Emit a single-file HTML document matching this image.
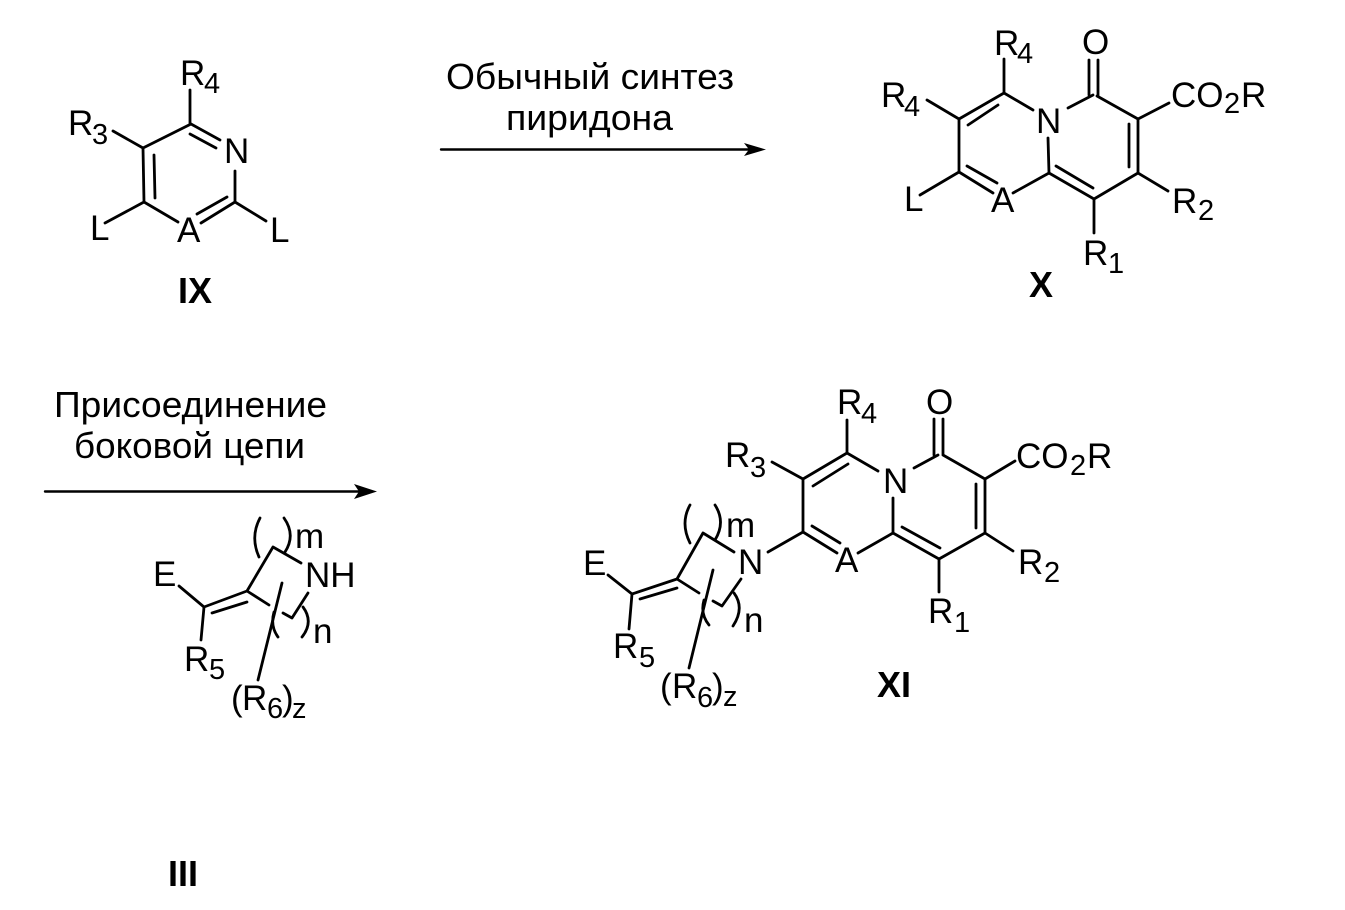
<!DOCTYPE html>
<html>
<head>
<meta charset="utf-8">
<style>
html,body{margin:0;padding:0;background:#fff;}
svg{display:block;}
text{font-family:"Liberation Sans",sans-serif;fill:#000;font-size:35px;}
.r{font-size:36px;}
.s{font-size:29px;}
.b{font-weight:bold;font-size:36px;}
.l{fill:none;stroke:#000;stroke-width:2.8;stroke-linecap:round;stroke-linejoin:round;}
.t{stroke-width:2.4;}
</style>
</head>
<body>
<svg width="1345" height="910" viewBox="0 0 1345 910" xmlns="http://www.w3.org/2000/svg">
<rect width="1345" height="910" fill="#fff"/>

<!-- IX -->
<path class="l" d="M190 90V124M191 124L220 140M190 134L216 148M191 124L143 148M113 131L143 148M143 148L144 202M154 155L155 198M144 202L105 223M144 202L178 222M201 223L235 202M197 214L227 197M235 171V202M235 202L266 221"/>
<text x="180" y="85">R</text><text class="s" x="204" y="93">4</text>
<text x="68" y="135">R</text><text class="s" x="92" y="144">3</text>
<text x="224" y="163">N</text>
<text x="90" y="240">L</text>
<text x="177" y="242">A</text>
<text x="270" y="242">L</text>
<text class="b" x="178" y="303">IX</text>

<!-- Arrow 1 -->
<text class="r" x="446" y="89" textLength="288" lengthAdjust="spacingAndGlyphs">Обычный синтез</text>
<text class="r" x="506" y="130" textLength="167" lengthAdjust="spacingAndGlyphs">пиридона</text>
<path class="l t" d="M441 149.500H752"/>
<path d="M744 143L766 149.500L744 156L749 149.500Z" fill="#000"/>

<!-- X -->
<path class="l" d="M1004 59V93M1004 93L1033 110M1004 93L959 119M998 105L968 125M927 100L959 119M959 119V172M959 172L920 195M959 172L993 193M967 166L997 183M1013 193L1049 173M1048 138L1049 173M1049 173L1094 199M1056 166L1093 188M1094 199V233M1094 199L1138 173M1138 173L1168 191M1138 173V119M1129 124V167M1138 119L1169 103M1138 119L1097 96M1068 108L1093 95M1089 60V95M1098 60V96"/>
<text x="994" y="55">R</text><text class="s" x="1017" y="63">4</text>
<text x="1082" y="54">O</text>
<text x="881" y="107">R</text><text class="s" x="904" y="116">4</text>
<text x="1036" y="133">N</text>
<text x="1171" y="107">CO</text><text class="s" x="1224" y="113">2</text><text x="1241" y="107">R</text>
<text x="904" y="211">L</text>
<text x="991" y="212">A</text>
<text x="1172" y="213">R</text><text class="s" x="1198" y="220">2</text>
<text x="1083" y="265">R</text><text class="s" x="1108" y="273">1</text>
<text class="b" x="1029" y="297">X</text>

<!-- Arrow 2 -->
<text class="r" x="54" y="417" textLength="273" lengthAdjust="spacingAndGlyphs">Присоединение</text>
<text class="r" x="74" y="458" textLength="231" lengthAdjust="spacingAndGlyphs">боковой цепи</text>
<path class="l t" d="M45 491.500H362"/>
<path d="M354 484L377 491.500L354 499L359 491.500Z" fill="#000"/>

<!-- III -->
<path class="l" d="M179 586L204 607M204 607L247 591M212 613L247 602M204 607L201 640M247 591L273 547M273 547L301 563M247 591L269 605M282 583L258 680M283 613L292 618L308 593"/>
<path class="l" d="M260 518Q250 537 259 557M284 518Q296 535 285 552M274 612Q270 626 278 637M303 607Q314 622 302 637"/>
<text x="153" y="586">E</text>
<text x="295" y="548">m</text>
<text x="305" y="587">NH</text>
<text x="313" y="643">n</text>
<text x="184" y="671">R</text><text class="s" x="209" y="679">5</text>
<text x="231" y="710">(</text><text x="242" y="710">R</text><text class="s" x="267" y="718">6</text><text x="282" y="710">)</text><text class="s" x="292" y="718">z</text>
<text class="b" x="168" y="886">III</text>

<!-- XI -->
<path class="l" d="M847 420V453M847 453L878 471M847 453L803 479M848 464L813 486M772 462L803 479M803 479V532M803 532L768 552M803 532L837 553M812 526L840 543M858 553L893 533M893 498V533M893 533L939 559M902 527L940 548M939 559V592M939 559L985 533M985 533L1013 551M985 533V479M976 484V528M985 479L1015 461M985 479L943 455M914 468L938 455M934 419V455M943 419V455"/>
<text x="837" y="414">R</text><text class="s" x="861" y="423">4</text>
<text x="926" y="414">O</text>
<text x="725" y="467">R</text><text class="s" x="750" y="477">3</text>
<text x="883" y="493">N</text>
<text x="1016" y="468">CO</text><text class="s" x="1070" y="475">2</text><text x="1087" y="468">R</text>
<text x="738" y="574">N</text>
<text x="835" y="572">A</text>
<text x="1018" y="574">R</text><text class="s" x="1044" y="582">2</text>
<text x="928" y="623">R</text><text class="s" x="954" y="632">1</text>
<text class="b" x="877" y="697">XI</text>

<!-- XI side chain -->
<path class="l" d="M608 575L632 594M632 594L677 579M640 599L677 588M632 594L629 629M677 579L703 533M703 533L734 552M677 579L699 593M713 570L689 668M713 601L722 606L741 579"/>
<path class="l" d="M690 505Q680 523 690 543M715 505Q726 522 715 540M704 600Q700 614 709 625M734 593Q745 608 733 626"/>
<text x="583" y="575">E</text>
<text x="726" y="537">m</text>
<text x="744" y="632">n</text>
<text x="613" y="658">R</text><text class="s" x="639" y="667">5</text>
<text x="660" y="698">(</text><text x="672" y="698">R</text><text class="s" x="697" y="707">6</text><text x="712" y="698">)</text><text class="s" x="723" y="706">z</text>
</svg>
</body>
</html>
